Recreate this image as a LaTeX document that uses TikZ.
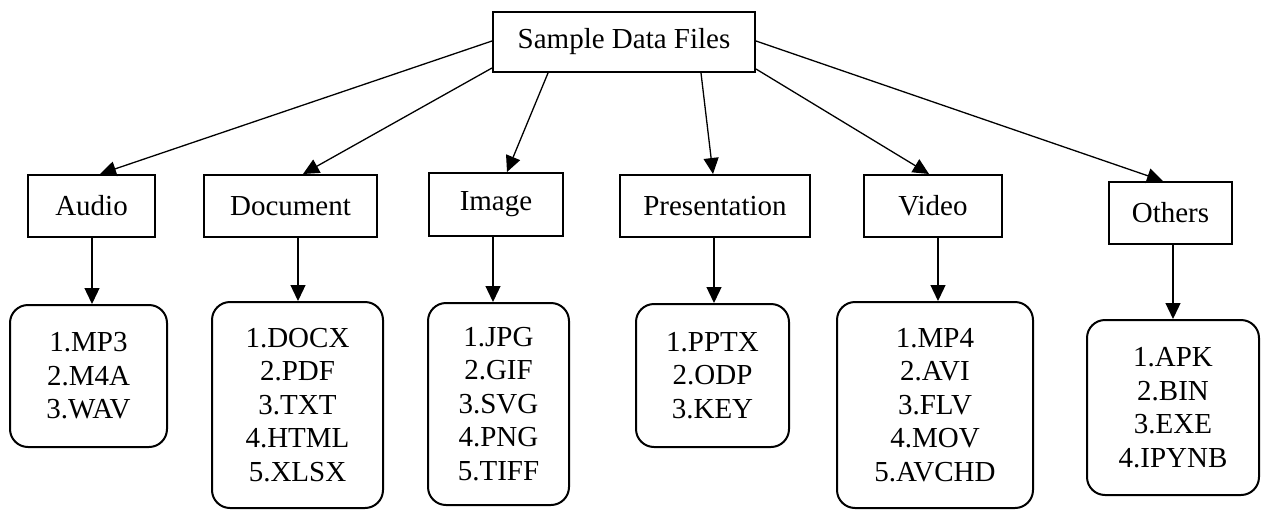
\documentclass[tikz,border=0pt]{standalone}
\usepackage{fontspec}
\setmainfont{Liberation Serif}
\usetikzlibrary{arrows.meta}
\tikzset{
  catbox/.style={draw, line width=2pt, inner sep=0pt, font=\fontsize{29}{33.5}\selectfont},
  listbox/.style={draw, line width=2pt, rounded corners=18pt, inner sep=0pt, align=center, font=\fontsize{29}{33.5}\selectfont},
  arr/.style={line width=1.3pt, -{Triangle[length=16pt,width=15pt]}}
}
\begin{document}
\begin{tikzpicture}[x=1pt,y=-1pt]
\useasboundingbox (0,0) rectangle (1261,509);
% root
\node[catbox, minimum width=262pt, minimum height=60pt] (root) at (624,42) {Sample Data Files};
% categories
\node[catbox, minimum width=127pt, minimum height=62pt] (audio) at (91.5,206) {Audio};
\node[catbox, minimum width=173pt, minimum height=62pt] (doc) at (290.5,206) {Document};
\node[catbox, minimum width=134pt, minimum height=63pt] (image) at (496,204.5) {Image};
\node[catbox, minimum width=190pt, minimum height=62pt] (pres) at (715,206) {Presentation};
\node[catbox, minimum width=138pt, minimum height=62pt] (video) at (933,206) {Video};
\node[catbox, minimum width=123pt, minimum height=62pt] (others) at (1170.5,213) {Others};
% lists
\node[listbox, minimum width=157pt, minimum height=142pt] (laudio) at (88.5,376) {1.MP3\\2.M4A\\3.WAV};
\node[listbox, minimum width=171pt, minimum height=206pt] (ldoc) at (297.5,405) {1.DOCX\\2.PDF\\3.TXT\\4.HTML\\5.XLSX};
\node[listbox, minimum width=141pt, minimum height=202pt] (limage) at (498.5,404) {1.JPG\\2.GIF\\3.SVG\\4.PNG\\5.TIFF};
\node[listbox, minimum width=153pt, minimum height=143pt] (lpres) at (712.5,375.5) {1.PPTX\\2.ODP\\3.KEY};
\node[listbox, minimum width=196pt, minimum height=206pt] (lvideo) at (935,405) {1.MP4\\2.AVI\\3.FLV\\4.MOV\\5.AVCHD};
\node[listbox, minimum width=172pt, minimum height=175pt] (lothers) at (1173,407.5) {1.APK\\2.BIN\\3.EXE\\4.IPYNB};
% root to categories
\draw[arr] ([yshift=1pt]root.west) -- ([xshift=8.5pt]audio.north);
\draw[arr] ([yshift=5pt]root.south west) -- ([xshift=12.5pt]doc.north);
\draw[arr] ([xshift=-76pt]root.south) -- ([xshift=11pt]image.north);
\draw[arr] ([xshift=77pt]root.south) -- ([xshift=-2pt]pres.north);
\draw[arr] ([yshift=4pt]root.south east) -- ([xshift=-4pt]video.north);
\draw[arr] ([yshift=1pt]root.east) -- ([xshift=-7.5pt]others.north);
% categories to lists
\draw[arr] ([xshift=0.5pt]audio.south) -- ([xshift=0.5pt]audio.south |- laudio.north);
\draw[arr] ([xshift=7.5pt]doc.south) -- ([xshift=7.5pt]doc.south |- ldoc.north);
\draw[arr] ([xshift=-3pt]image.south) -- ([xshift=-3pt]image.south |- limage.north);
\draw[arr] ([xshift=-1pt]pres.south) -- ([xshift=-1pt]pres.south |- lpres.north);
\draw[arr] ([xshift=5pt]video.south) -- ([xshift=5pt]video.south |- lvideo.north);
\draw[arr] ([xshift=2.5pt]others.south) -- ([xshift=2.5pt]others.south |- lothers.north);
\end{tikzpicture}
\end{document}
